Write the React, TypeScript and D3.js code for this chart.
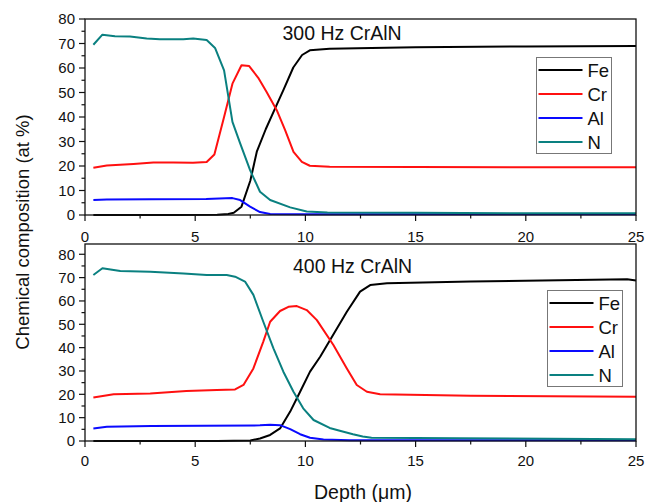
import React from "react";
import * as d3 from "d3";

type Pt = [number, number];

// Depth profiles, 300 Hz CrAlN coating: [depth (µm), at %]
const fe300: Pt[] = [
  [0.38, 0], [2, 0], [4, 0], [6, 0.1], [6.5, 0.4], [6.75, 0.9], [7.1, 3.4],
  [7.5, 14], [7.8, 26], [8.2, 35], [8.6, 43], [9.0, 51], [9.45, 60.2],
  [9.85, 65.3], [10.2, 67.2], [11.1, 67.9], [13, 68.2], [15, 68.5],
  [20, 68.8], [25, 69.0],
];
const cr300: Pt[] = [
  [0.38, 19.3], [0.99, 20.2], [2.2, 20.8], [3.1, 21.4], [4.0, 21.4],
  [4.9, 21.3], [5.52, 21.6], [5.87, 24.7], [6.31, 40.0], [6.69, 53.6],
  [7.1, 61.1], [7.45, 60.8], [7.86, 56.0], [8.24, 50.2], [8.7, 42.8],
  [9.08, 34.6], [9.46, 25.8], [9.84, 21.7], [10.2, 20.1], [11.1, 19.7],
  [15, 19.6], [20, 19.5], [25, 19.5],
];
const al300: Pt[] = [
  [0.38, 6.1], [0.99, 6.3], [3, 6.4], [5.5, 6.5], [6.69, 6.9], [7.04, 6.1],
  [7.49, 3.4], [7.94, 1.2], [8.4, 0.4], [10, 0.3], [25, 0.3],
];
const n300: Pt[] = [
  [0.38, 69.5], [0.79, 73.6], [1.36, 73.0], [2.04, 72.9], [2.8, 72.0],
  [3.4, 71.7], [4.46, 71.7], [4.91, 72.0], [5.52, 71.4], [5.9, 68.2],
  [6.31, 59.0], [6.69, 38.0], [7.04, 29.2], [7.49, 18.3], [7.94, 9.5],
  [8.4, 6.1], [9.31, 3.1], [10.06, 1.4], [11, 1.0], [15, 0.9], [20, 0.7],
  [25, 0.7],
];

// Depth profiles, 400 Hz CrAlN coating
const fe400: Pt[] = [
  [0.38, 0], [3, 0], [6, 0], [7.5, 0.2], [7.94, 1.1], [8.4, 2.6], [8.85, 5.4],
  [9.31, 12.6], [9.76, 21.1], [10.21, 29.7], [10.67, 36.1], [11.12, 43.3],
  [11.88, 55.4], [12.48, 64.0], [12.94, 66.8], [13.7, 67.6], [17.5, 68.3],
  [24.6, 69.3], [25, 68.8],
];
const cr400: Pt[] = [
  [0.38, 18.6], [1.3, 20.0], [2.96, 20.4], [4.6, 21.4], [5.98, 21.9],
  [6.81, 22.1], [7.19, 24.0], [7.64, 31.1], [8.09, 42.6], [8.4, 51.1],
  [8.85, 55.7], [9.23, 57.5], [9.61, 57.8], [10.06, 56.1], [10.52, 51.8],
  [11.27, 41.1], [11.88, 31.1], [12.33, 24.0], [12.79, 21.1], [13.39, 20.0],
  [17.5, 19.4], [25, 19.0],
];
const al400: Pt[] = [
  [0.38, 5.4], [0.99, 6.1], [3, 6.4], [7.94, 6.7], [8.4, 7.0], [8.85, 6.8],
  [9.31, 5.1], [9.76, 2.9], [10.21, 1.4], [10.82, 0.6], [12, 0.3], [25, 0.3],
];
const n400: Pt[] = [
  [0.38, 71.1], [0.79, 74.0], [1.6, 72.8], [2.96, 72.5], [4.47, 71.8],
  [5.52, 71.1], [6.43, 71.1], [6.81, 70.4], [7.26, 68.3], [7.64, 62.6],
  [8.09, 51.1], [8.55, 39.7], [9.0, 29.7], [9.46, 21.1], [9.9, 14.0],
  [10.37, 9.0], [11.1, 5.6], [11.56, 4.4], [12.16, 2.9], [12.6, 1.9],
  [13.0, 1.4], [17, 1.2], [25, 0.8],
];

const elements = ["Fe", "Cr", "Al", "N"];
const colors = ["#000000", "#ff1010", "#0a0aff", "#0a8080"];
const xTicks = [0, 5, 10, 15, 20, 25];
const yTicks = [0, 10, 20, 30, 40, 50, 60, 70, 80];

const FONT = "'Liberation Sans', Arial, sans-serif";

const W = 645;
const H = 502;
const left = 85;
const right = 636;

const x = d3.scaleLinear().domain([0, 25]).range([left, right]);

interface PanelProps {
  title: string;
  series: Pt[][];
  yMax: number;
  frameTop: number;
  frameBottom: number;
  titleX: number;
  titleY: number;
  legendX: number;
  legendY: number;
  tickLabelY: number;
}

function Panel(p: PanelProps) {
  const y = d3.scaleLinear().domain([0, p.yMax]).range([p.frameBottom, p.frameTop]);
  const line = d3
    .line<Pt>()
    .x((d) => x(d[0]))
    .y((d) => y(d[1]));
  const xMinor = d3.range(0, 25.01, 2.5);
  const yMinor = d3.range(0, 80.01, 5);
  const legW = 75;
  const legH = 96;
  return (
    <g>
      {p.series.map((s, i) => (
        <path
          key={elements[i]}
          d={line(s) ?? ""}
          fill="none"
          stroke={colors[i]}
          strokeWidth={2}
          strokeLinejoin="round"
        />
      ))}
      <rect
        x={left}
        y={p.frameTop}
        width={right - left}
        height={p.frameBottom - p.frameTop}
        fill="none"
        stroke="#111"
        strokeWidth={1.3}
      />
      {yMinor.map((v) => (
        <line
          key={"ym" + v}
          x1={left}
          x2={left - (v % 10 === 0 ? 6 : 3.5)}
          y1={y(v)}
          y2={y(v)}
          stroke="#111"
          strokeWidth={1.2}
        />
      ))}
      {yTicks.map((v) => (
        <text
          key={"yl" + v}
          x={left - 10}
          y={y(v)}
          dy="0.35em"
          textAnchor="end"
          fontSize={15}
          fontFamily={FONT}
          fill="#111"
        >
          {v}
        </text>
      ))}
      {xMinor.map((v) => (
        <line
          key={"xm" + v}
          x1={x(v)}
          x2={x(v)}
          y1={p.frameBottom}
          y2={p.frameBottom + (v % 5 === 0 ? 6 : 3.5)}
          stroke="#111"
          strokeWidth={1.2}
        />
      ))}
      {xTicks.map((v) => (
        <text
          key={"xl" + v}
          x={x(v)}
          y={p.tickLabelY}
          dy="0.35em"
          textAnchor="middle"
          fontSize={15}
          fontFamily={FONT}
          fill="#111"
        >
          {v}
        </text>
      ))}
      <text
        x={p.titleX}
        y={p.titleY}
        dy="0.35em"
        fontSize={19.5}
        fontFamily={FONT}
        fill="#111"
      >
        {p.title}
      </text>
      <rect
        x={p.legendX}
        y={p.legendY}
        width={legW}
        height={legH}
        fill="#fff"
        stroke="#777"
        strokeWidth={1}
      />
      {elements.map((el, i) => {
        const ly = p.legendY + 12.5 + i * 24;
        return (
          <g key={"lg" + el}>
            <line
              x1={p.legendX + 2}
              x2={p.legendX + 46}
              y1={ly}
              y2={ly}
              stroke={colors[i]}
              strokeWidth={2}
            />
            <text
              x={p.legendX + 51}
              y={ly}
              dy="0.36em"
              fontSize={18.5}
              fontFamily={FONT}
              fill="#111"
            >
              {el}
            </text>
          </g>
        );
      })}
    </g>
  );
}

export default function App() {
  return (
    <svg
      width={W}
      height={H}
      style={{ position: "absolute", left: 0, top: 0, background: "#fff" }}
    >
      <Panel
        title="300 Hz CrAlN"
        series={[fe300, cr300, al300, n300]}
        yMax={80}
        frameTop={19}
        frameBottom={215}
        titleX={282.5}
        titleY={33.5}
        legendX={536.5}
        legendY={57.5}
        tickLabelY={236.5}
      />
      <Panel
        title="400 Hz CrAlN"
        series={[fe400, cr400, al400, n400]}
        yMax={84.4}
        frameTop={244}
        frameBottom={441}
        titleX={293}
        titleY={266.5}
        legendX={547.5}
        legendY={290.5}
        tickLabelY={460.5}
      />
      <text
        transform={`translate(23,232) rotate(-90)`}
        textAnchor="middle"
        dy="0.35em"
        fontSize={18.5}
        fontFamily={FONT}
        fill="#111"
      >
        Chemical composition (at %)
      </text>
      <text
        x={363}
        y={492}
        dy="0.35em"
        textAnchor="middle"
        fontSize={19.5}
        fontFamily={FONT}
        fill="#111"
      >
        Depth (μm)
      </text>
    </svg>
  );
}
